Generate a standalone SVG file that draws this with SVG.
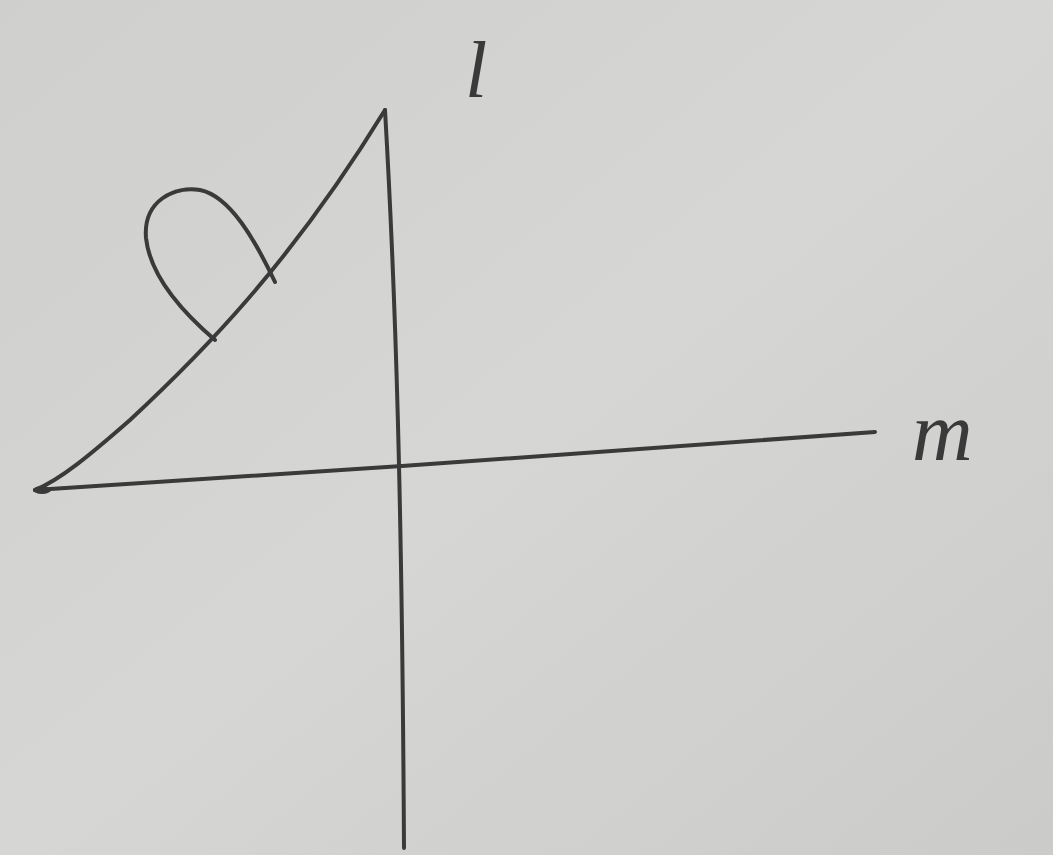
<svg xmlns="http://www.w3.org/2000/svg" width="1053" height="855" viewBox="0 0 1053 855">
<defs>
<style>
.ln{fill:none;stroke:#3a3a3a;stroke-width:4;stroke-linecap:round;stroke-linejoin:round}
.lb{font-family:"Liberation Serif",serif;font-style:italic;fill:#3a3a3a}
</style>
<linearGradient id="bg" x1="0" y1="0" x2="1" y2="1">
<stop offset="0" stop-color="#cfcfcd"/>
<stop offset="0.5" stop-color="#d6d6d4"/>
<stop offset="1" stop-color="#cbcbc9"/>
</linearGradient>
</defs>
<rect width="1053" height="855" fill="url(#bg)"/>
<g id="axis-l">
<path class="ln" d="M385 110 C396 300 402 500 404 848"/>
<text class="lb" x="465" y="97" font-size="80">l</text>
</g>
<g id="axis-m">
<path class="ln" d="M35 490 L402 466 L875 432"/>
<text class="lb" x="912" y="460" font-size="84">m</text>
</g>
<g id="curve">
<path class="ln" d="M35 490 C60 480 90 455 130 420 C200 355 290 265 385 110"/>
<path class="ln" d="M215 340 C180 310 150 275 146 238 C143 200 175 186 200 190 C230 196 255 240 275 282"/>
<ellipse cx="42" cy="490" rx="9" ry="4" fill="#3a3a3a"/>
</g>
</svg>
